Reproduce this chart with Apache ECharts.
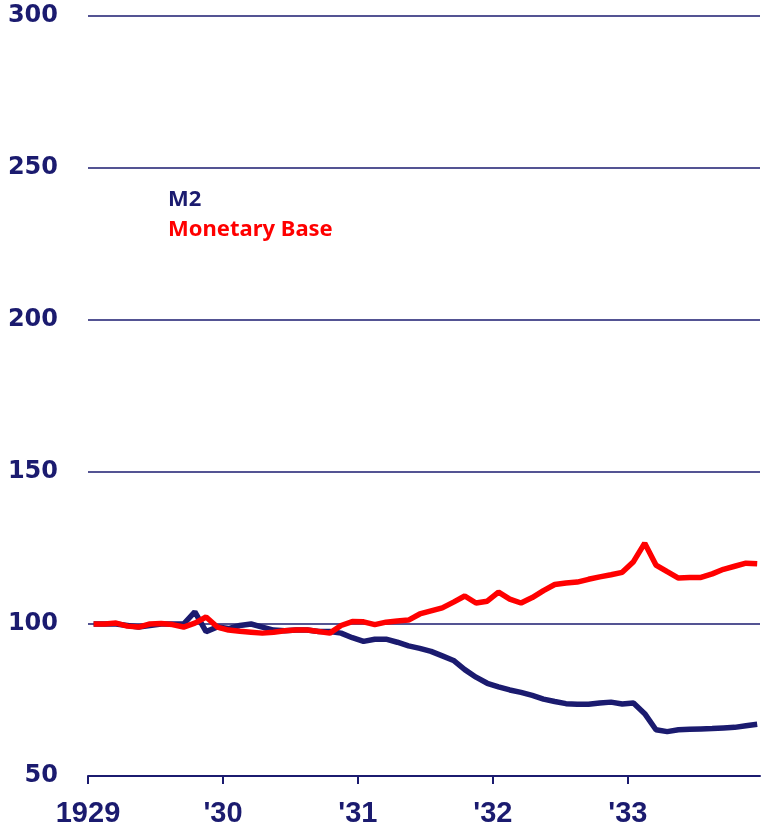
<!DOCTYPE html>
<html>
<head>
<meta charset="utf-8">
<script src="https://cdn.jsdelivr.net/npm/echarts@6/dist/echarts.min.js"></script>
<style>
  html, body { margin: 0; padding: 0; background: #fff; }
  #chart { width: 761px; height: 830px; }
</style>
</head>
<body>
<div id="chart"></div>
<script>
// monthly index values, Jan 1929 = 100 (Jan 1929 .. Dec 1933)
var m2 = [
  100, 100, 100, 99.5, 99, 99.5, 100, 100, 100, 104, 97.5, 99,
  98.5, 99.5, 100, 99, 98, 97.8, 98, 98, 97.5, 97.5, 97, 95.5,
  94.3, 95, 95, 94, 92.8, 92, 91, 89.5, 88, 85, 82.5, 80.5,
  79.3, 78.3, 77.5, 76.5, 75.3, 74.5, 73.8, 73.6, 73.6, 74, 74.3, 73.7,
  74, 70.5, 65.2, 64.6, 65.2, 65.4, 65.5, 65.6, 65.8, 66, 66.5, 67
];
var monetaryBase = [
  100, 100, 100.3, 99.3, 99, 100, 100.2, 99.8, 99, 100.3, 102.3, 99,
  98, 97.6, 97.3, 97, 97.3, 97.8, 98, 98, 97.5, 97, 99.5, 100.8,
  100.7, 99.8, 100.6, 101, 101.3, 103.3, 104.3, 105.3, 107.2, 109.2, 106.9, 107.5,
  110.5, 108.2, 106.9, 108.7, 111, 113, 113.5, 113.8, 114.7, 115.5, 116.2, 117,
  120.5, 126.6, 119.4, 117.2, 115.1, 115.3, 115.3, 116.5, 118, 119, 120, 119.8
];
var yearTicks = [0, 12, 24, 36, 48];
var yearLabels = ['1929', "'30", "'31", "'32", "'33"];

var navy = '#1b1b6f';
var red = '#ff0000';

function toPoints(arr) {
    // each month plotted at its middle
    return arr.map(function (v, i) { return [i + 0.5, v]; });
}

var myChart = echarts.init(document.getElementById('chart'));
myChart.setOption({
    animation: false,
    grid: { left: 88, right: 1, top: 16, bottom: 54 },
    xAxis: {
        type: 'value',
        min: 0,
        max: 59.75,
        interval: 12,
        splitLine: { show: false },
        axisLine: { show: true, lineStyle: { color: navy, width: 2 } },
        axisTick: {
            show: true,
            length: 8,
            customValues: yearTicks,
            lineStyle: { color: navy, width: 2 }
        },
        axisLabel: {
            customValues: yearTicks,
            margin: 23,
            color: navy,
            fontFamily: 'Liberation Sans',
            fontWeight: 'bold',
            fontSize: 29,
            formatter: function (v) {
                var k = yearTicks.indexOf(v);
                return k >= 0 ? yearLabels[k] : '';
            }
        }
    },
    yAxis: {
        type: 'value',
        min: 50,
        max: 300,
        interval: 50,
        axisLine: { show: false },
        axisTick: { show: false },
        splitLine: { show: true, lineStyle: { color: navy, width: 1.5 } },
        axisLabel: {
            margin: 30,
            color: navy,
            fontFamily: 'DejaVu Sans',
            fontWeight: 'bold',
            fontSize: 24
        }
    },
    graphic: [
        {
            type: 'text', left: 168, top: 189,
            style: { text: 'M2', fill: navy, font: 'bold 22px "Noto Sans"' }
        },
        {
            type: 'text', left: 168, top: 219,
            style: { text: 'Monetary Base', fill: red, font: 'bold 22px "Noto Sans"' }
        }
    ],
    series: [
        {
            name: 'M2',
            type: 'line',
            data: toPoints(m2),
            symbol: 'none',
            lineStyle: { color: navy, width: 5.5 }
        },
        {
            name: 'Monetary Base',
            type: 'line',
            data: toPoints(monetaryBase),
            symbol: 'none',
            lineStyle: { color: red, width: 5.5 }
        }
    ]
});
</script>
</body>
</html>
